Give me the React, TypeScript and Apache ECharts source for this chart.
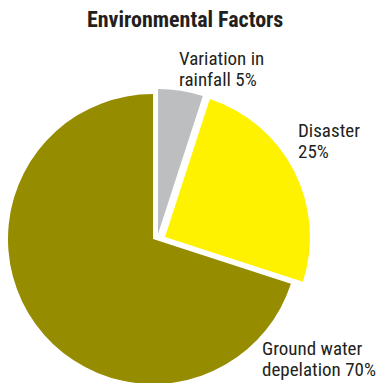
import React, { useEffect, useRef } from "react";
import * as echarts from "echarts";

const titleText = "Environmental Factors";
const categories = ["Variation in\nrainfall", "Disaster", "Ground water\ndepelation"];
const values = [5, 25, 70];
const colors = ["#bcbec0", "#fff200", "#968c00"];

const centers: [number, number][] = [
  [158, 234],
  [165, 237],
  [153, 239],
];
const labelPos: [number, number][] = [
  [179, 48],
  [298, 120],
  [262, 338],
];

const FONT = "'Roboto Condensed', 'Open Sans Condensed', sans-serif";

export default function App() {
  const ref = useRef<HTMLDivElement>(null);
  useEffect(() => {
    if (!ref.current) return;
    const chart = echarts.init(ref.current, undefined, { renderer: "svg" });
    const series = categories.map((_, k) => ({
      type: "pie",
      center: centers[k],
      radius: 145,
      startAngle: 90,
      clockwise: true,
      silent: true,
      avoidLabelOverlap: false,
      emphasis: { disabled: true },
      labelLine: { show: false },
      data: values.map((v, i) => ({
        name: categories[i],
        value: v,
        itemStyle: { color: i === k ? colors[i] : "rgba(0,0,0,0)" },
        label: { show: i === k },
      })),
      label: {
        position: "inside",
        overflow: "none",
        formatter: (p: any) => {
          const sep = p.name.indexOf("\n") >= 0 ? " " : "\n";
          return `${p.name}${sep}${Math.round(p.percent)}%`;
        },
        fontFamily: FONT,
        fontSize: 19,
        lineHeight: 21,
        color: "#231f20",
        align: "left",
      },
      labelLayout: (params: any) => ({
        x: labelPos[params.dataIndex][0],
        y: labelPos[params.dataIndex][1],
        align: "left",
        verticalAlign: "top",
        hideOverlap: false,
      }),
    }));
    chart.setOption({
      animation: false,
      title: {
        text: titleText,
        left: 82,
        top: 3,
        textStyle: {
          fontFamily: FONT,
          fontWeight: "bold",
          fontSize: 22,
          color: "#231f20",
        },
      },
      series,
    } as any);
    return () => chart.dispose();
  }, []);
  return (
    <div
      ref={ref}
      style={{ position: "fixed", left: 0, top: 0, width: 383, height: 383, background: "#fff" }}
    />
  );
}
